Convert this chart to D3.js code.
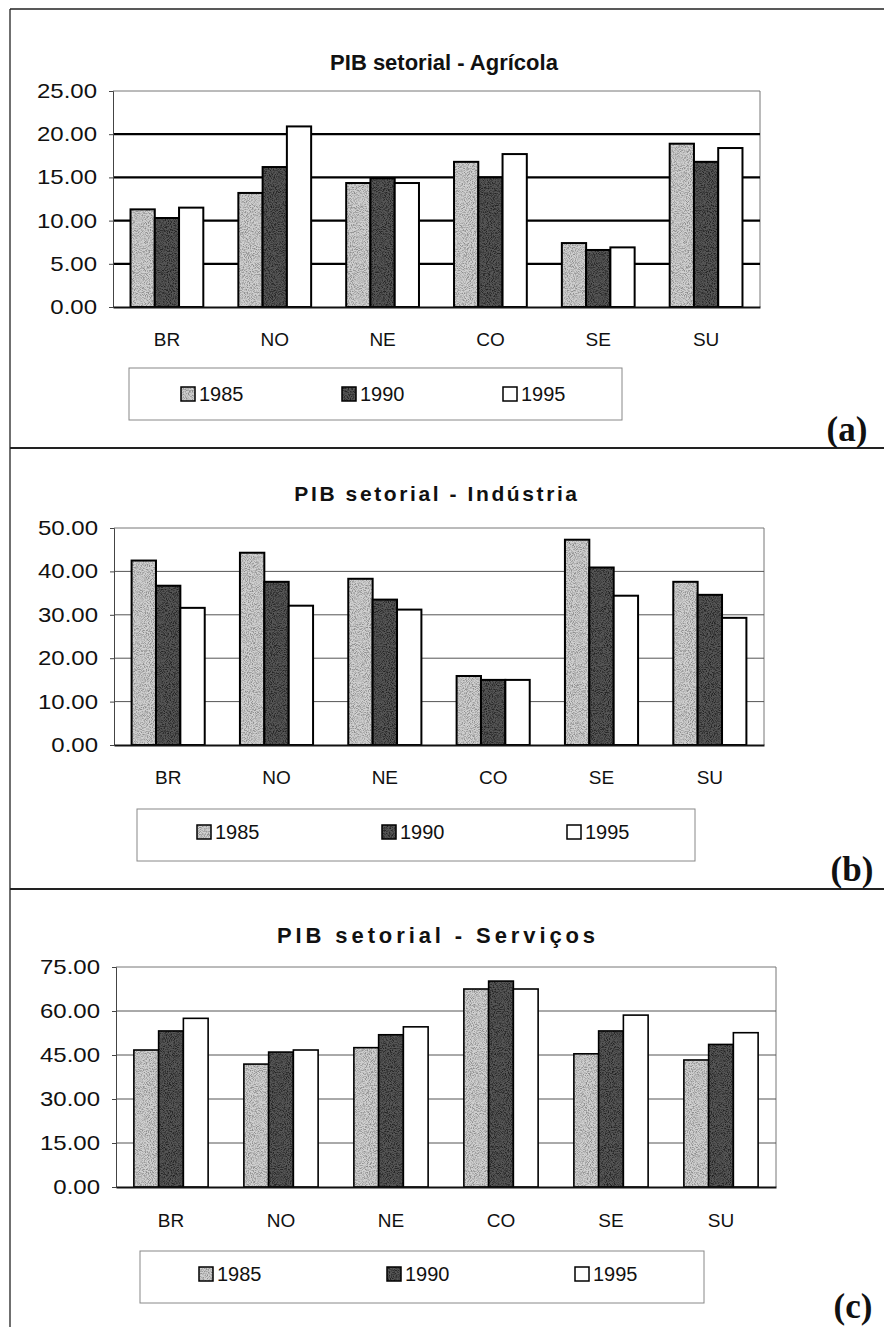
<!DOCTYPE html>
<html>
<head>
<meta charset="utf-8">
<script src="https://cdn.jsdelivr.net/npm/d3@7"></script>
<style>
  html, body { margin: 0; padding: 0; background: #fff; }
  svg { display: block; }
</style>
</head>
<body>
<svg id="fig" width="884" height="1327"></svg>
<script>
// Regions and census years
const regions = ["BR", "NO", "NE", "CO", "SE", "SU"];
const years = ["1985", "1990", "1995"];

// Sector share of GDP (%) by region
const agricola1985 = [11.3, 13.2, 14.35, 16.8, 7.4, 18.9];
const agricola1990 = [10.3, 16.2, 14.9, 15.0, 6.6, 16.8];
const agricola1995 = [11.5, 20.9, 14.35, 17.7, 6.9, 18.4];

const industria1985 = [42.5, 44.3, 38.3, 15.9, 47.3, 37.6];
const industria1990 = [36.7, 37.6, 33.5, 15.0, 40.9, 34.6];
const industria1995 = [31.6, 32.1, 31.2, 15.0, 34.4, 29.3];

const servicos1985 = [46.7, 41.9, 47.5, 67.5, 45.4, 43.3];
const servicos1990 = [53.2, 46.0, 51.9, 70.2, 53.2, 48.6];
const servicos1995 = [57.5, 46.7, 54.6, 67.5, 58.6, 52.6];

// Axis tick values per panel
const agricolaTicks = [0, 5, 10, 15, 20, 25];
const industriaTicks = [0, 10, 20, 30, 40, 50];
const servicosTicks = [0, 15, 30, 45, 60, 75];

const titles = ["PIB setorial - Agrícola", "PIB setorial - Indústria", "PIB setorial - Serviços"];
const panelTags = ["(a)", "(b)", "(c)"];

const svg = d3.select("#fig");
const sans = "'Liberation Sans', Arial, sans-serif";
const serif = "'Liberation Serif', 'Times New Roman', serif";

// Halftone-like grain used by the shaded series
const defs = svg.append("defs");
const grain = defs.append("filter").attr("id", "grain")
  .attr("x", 0).attr("y", 0).attr("width", "100%").attr("height", "100%")
  .attr("filterUnits", "userSpaceOnUse");
grain.append("feTurbulence").attr("type", "fractalNoise")
  .attr("baseFrequency", 0.95).attr("numOctaves", 2).attr("seed", 7);
grain.append("feColorMatrix").attr("type", "matrix")
  .attr("values", "0 0 0 0 0  0 0 0 0 0  0 0 0 0 0  3.2 0 0 0 -1.35");

function texture(id, base, speck) {
  const pat = defs.append("pattern").attr("id", id)
    .attr("patternUnits", "userSpaceOnUse").attr("width", 884).attr("height", 1327);
  pat.append("rect").attr("width", 884).attr("height", 1327).attr("fill", base);
  pat.append("rect").attr("width", 884).attr("height", 1327).attr("fill", "#000")
    .attr("filter", "url(#grain)").attr("opacity", speck);
}
texture("tex1985", "#d0d0d0", 0.32);
texture("tex1990", "#565656", 0.6);

const yearFill = { "1985": "url(#tex1985)", "1990": "url(#tex1990)", "1995": "#ffffff" };

// Outer frame: top rule, left rule and panel separators
const frame = svg.append("g").attr("stroke", "#222").attr("fill", "none");
frame.append("line").attr("x1", 10).attr("x2", 884).attr("y1", 9).attr("y2", 9).attr("stroke-width", 1.5);
frame.append("line").attr("x1", 10).attr("x2", 10).attr("y1", 9).attr("y2", 1327).attr("stroke-width", 1.3);
frame.append("line").attr("x1", 10).attr("x2", 884).attr("y1", 448).attr("y2", 448).attr("stroke-width", 2);
frame.append("line").attr("x1", 10).attr("x2", 884).attr("y1", 889).attr("y2", 889).attr("stroke-width", 2);

// Layout of each panel
const panels = [
  {
    series: [agricola1985, agricola1990, agricola1995], ticks: agricolaTicks,
    x0: 113, x1: 760, y0: 91, y1: 307,
    titleX: 444, titleY: 70, titleSize: 22, titleSpacing: 0,
    labelY: 346,
    legend: { x0: 129, x1: 622, y0: 368, y1: 420, items: [181, 342, 503], textY: 401 },
    tag: { x: 847, y: 441 },
    gridColor: "#000", gridWidth: 2.2, barStroke: 2
  },
  {
    series: [industria1985, industria1990, industria1995], ticks: industriaTicks,
    x0: 114, x1: 764, y0: 528, y1: 745,
    titleX: 437, titleY: 501, titleSize: 21, titleSpacing: 2.6,
    labelY: 784,
    legend: { x0: 137, x1: 695, y0: 809, y1: 861, items: [197, 382, 567], textY: 839 },
    tag: { x: 852, y: 881 },
    gridColor: "#555", gridWidth: 1, barStroke: 2
  },
  {
    series: [servicos1985, servicos1990, servicos1995], ticks: servicosTicks,
    x0: 116, x1: 776, y0: 967, y1: 1187,
    titleX: 438, titleY: 943, titleSize: 22, titleSpacing: 3.9,
    labelY: 1227,
    legend: { x0: 140, x1: 704, y0: 1251, y1: 1303, items: [199, 387, 575], textY: 1281 },
    tag: { x: 853, y: 1318 },
    gridColor: "#555", gridWidth: 1, barStroke: 1.6
  }
];

panels.forEach((p, i) => {
  const g = svg.append("g");
  const ymax = p.ticks[p.ticks.length - 1];

  const x = d3.scaleBand().domain(regions).range([p.x0, p.x1]).paddingInner(0.325).paddingOuter(0.1625);
  const xs = d3.scaleBand().domain(years).range([0, x.bandwidth()]).padding(0);
  const y = d3.scaleLinear().domain([0, ymax]).range([p.y1, p.y0]);

  // Title
  g.append("text")
    .attr("x", p.titleX).attr("y", p.titleY)
    .attr("text-anchor", "middle")
    .attr("font-family", sans).attr("font-weight", "bold")
    .attr("font-size", p.titleSize).attr("letter-spacing", p.titleSpacing)
    .attr("fill", "#111")
    .text(titles[i]);

  // Plot area border (top and right)
  g.append("path")
    .attr("d", `M${p.x0},${p.y0}H${p.x1}V${p.y1}`)
    .attr("fill", "none").attr("stroke", "#777").attr("stroke-width", 1);

  // Horizontal gridlines
  g.append("g").selectAll("line")
    .data(p.ticks.filter(t => t > 0 && t < ymax))
    .join("line")
    .attr("x1", p.x0).attr("x2", p.x1)
    .attr("y1", d => y(d)).attr("y2", d => y(d))
    .attr("stroke", p.gridColor).attr("stroke-width", p.gridWidth);

  // Value axis
  const yAxis = d3.axisLeft(y).tickValues(p.ticks).tickFormat(d3.format(".2f")).tickSize(4).tickPadding(12);
  const ya = g.append("g").attr("transform", `translate(${p.x0},0)`).call(yAxis);
  ya.select(".domain").attr("stroke", "#444").attr("stroke-width", 1);
  ya.selectAll(".tick line").attr("stroke", "#444");
  ya.selectAll(".tick text")
    .attr("x", 0).attr("transform", "translate(-16,0) scale(1.2,1)")
    .attr("font-family", sans).attr("font-size", 20).attr("fill", "#111");

  // Bars
  years.forEach((yr, k) => {
    g.append("g").selectAll("rect")
      .data(regions.map((r, j) => ({ r, v: p.series[k][j] })))
      .join("rect")
      .attr("x", d => x(d.r) + xs(yr))
      .attr("y", d => y(d.v))
      .attr("width", xs.bandwidth())
      .attr("height", d => y(0) - y(d.v))
      .attr("fill", yearFill[yr])
      .attr("stroke", "#000").attr("stroke-width", p.barStroke);
  });

  // Category axis
  const xAxis = d3.axisBottom(x).tickSize(0).tickPadding(0);
  const xa = g.append("g").attr("transform", `translate(0,${p.y1})`).call(xAxis);
  xa.select(".domain").attr("stroke", "#111").attr("stroke-width", 2);
  xa.selectAll(".tick text")
    .attr("font-family", sans).attr("font-size", 19).attr("fill", "#111")
    .attr("dy", null).attr("y", p.labelY - p.y1);

  // Legend
  const L = p.legend;
  const lg = g.append("g");
  lg.append("rect")
    .attr("x", L.x0).attr("y", L.y0).attr("width", L.x1 - L.x0).attr("height", L.y1 - L.y0)
    .attr("fill", "none").attr("stroke", "#888").attr("stroke-width", 1);
  years.forEach((yr, k) => {
    lg.append("rect")
      .attr("x", L.items[k]).attr("y", L.textY - 14).attr("width", 14).attr("height", 14)
      .attr("fill", yearFill[yr]).attr("stroke", "#000").attr("stroke-width", 1.5);
    lg.append("text")
      .attr("x", L.items[k] + 18).attr("y", L.textY)
      .attr("font-family", sans).attr("font-size", 20).attr("fill", "#111")
      .text(yr);
  });

  // Panel tag
  g.append("text")
    .attr("x", p.tag.x).attr("y", p.tag.y)
    .attr("text-anchor", "middle")
    .attr("font-family", serif).attr("font-weight", "bold").attr("font-size", 35)
    .attr("fill", "#111")
    .text(panelTags[i]);
});
</script>
</body>
</html>
